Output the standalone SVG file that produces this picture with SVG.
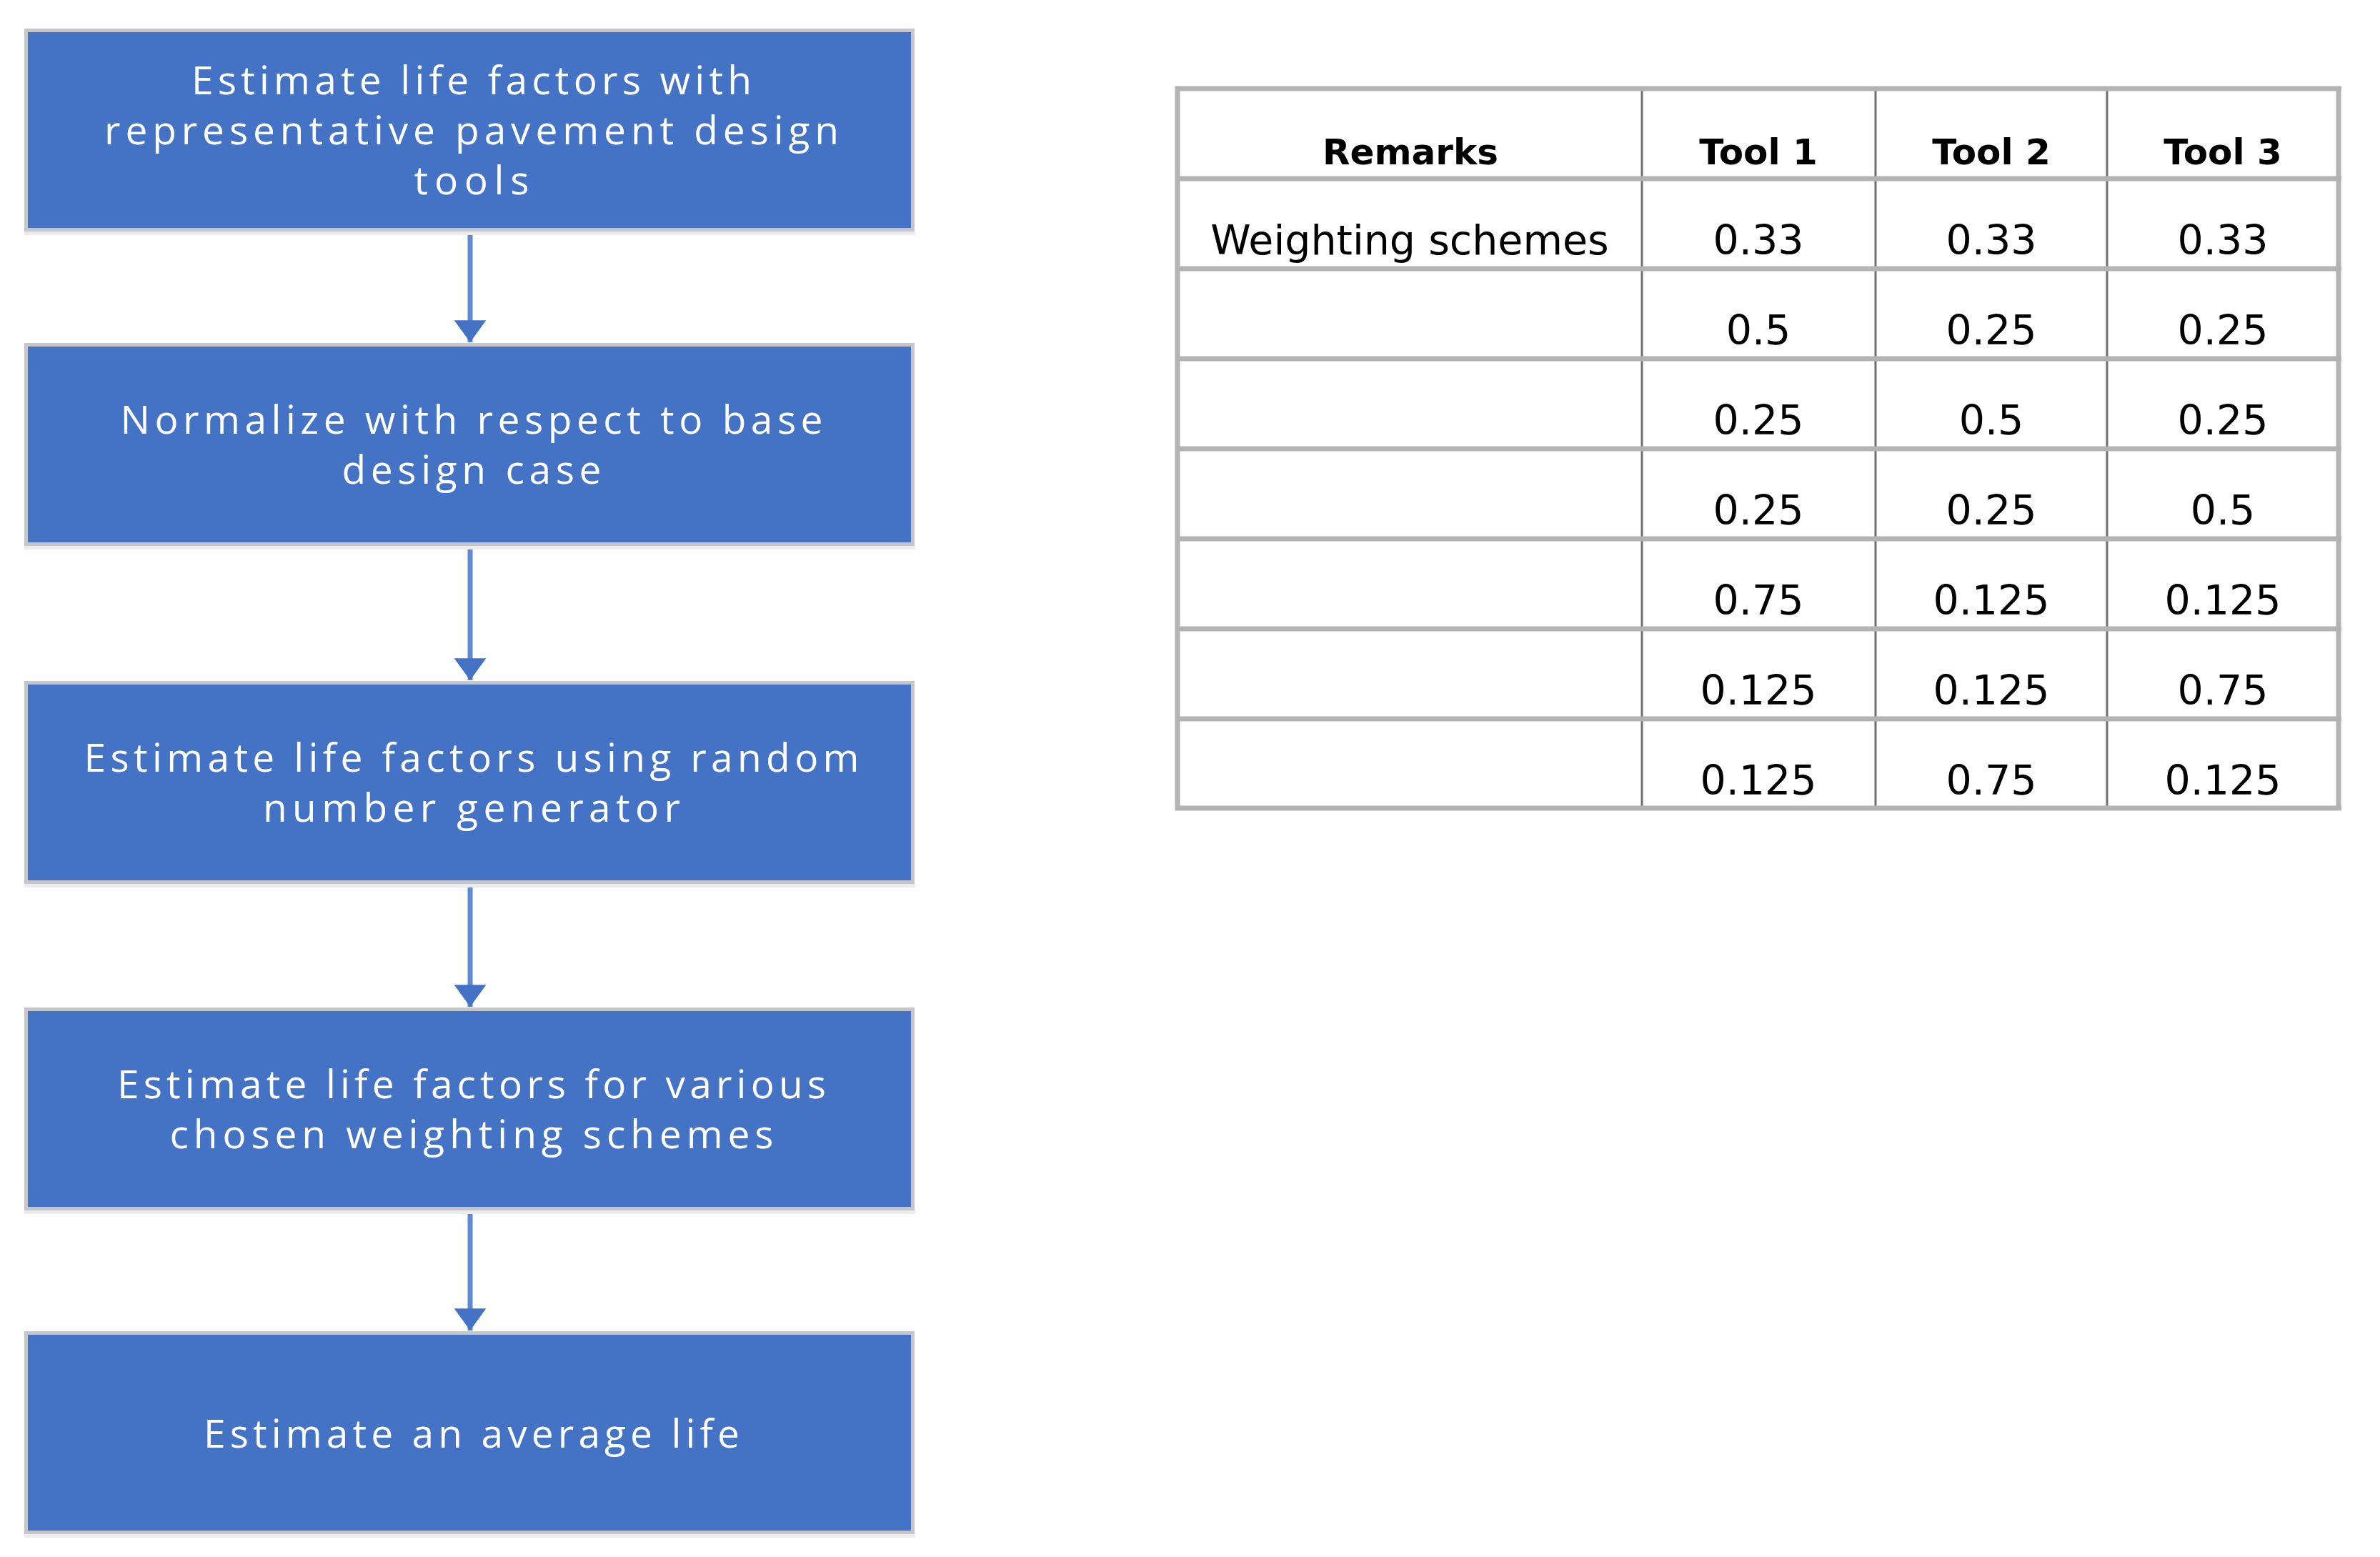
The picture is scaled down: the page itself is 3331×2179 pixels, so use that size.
<svg xmlns="http://www.w3.org/2000/svg" width="3331" height="2179" viewBox="0 0 3331 2179">
<style>
.box{fill:#4472C4;stroke:#c4c6cc;stroke-width:5}
.shadow{fill:#ececec}
.bt{font-family:"Open Sans","Noto Sans",sans-serif;font-size:55px;fill:#ffffff;text-anchor:middle}
.conn{stroke:#5f87d2;stroke-width:7;fill:none}
.head{fill:#4472C4}
.hl{stroke:#b3b3b3;stroke-width:7}
.ol{stroke:#b3b3b3;stroke-width:7}
.il{stroke:#6e6e6e;stroke-width:3}
.th{font-family:"DejaVu Sans",sans-serif;font-weight:bold;font-size:50px;fill:#000;text-anchor:middle}
.td{font-family:"DejaVu Sans",sans-serif;font-size:57px;fill:#000;text-anchor:middle}
</style>
<defs>
<marker id="arr" markerWidth="4.4" markerHeight="6.4" refX="4.4" refY="3.2" orient="auto" markerUnits="strokeWidth">
<path d="M0,0 L4.4,3.2 L0,6.4 Z" class="head"/>
</marker>
</defs>
<rect width="3331" height="2179" fill="#ffffff"/>
<g id="connectors">
<line class="conn" x1="658" y1="324" x2="658" y2="479" marker-end="url(#arr)"/>
<line class="conn" x1="658" y1="764" x2="658" y2="952" marker-end="url(#arr)"/>
<line class="conn" x1="658" y1="1237" x2="658" y2="1409" marker-end="url(#arr)"/>
<line class="conn" x1="658" y1="1694" x2="658" y2="1862" marker-end="url(#arr)"/>
</g>
<g id="node1">
<rect class="shadow" x="34" y="324" width="1247" height="5"/>
<rect class="box" x="36.5" y="42.5" width="1241" height="279"/>
<text class="bt" x="660" y="132" textLength="784" lengthAdjust="spacing">Estimate life factors with</text>
<text class="bt" x="660" y="202" textLength="1028" lengthAdjust="spacing">representative pavement design</text>
<text class="bt" x="660" y="272" textLength="161" lengthAdjust="spacing">tools</text>
</g>
<g id="node2">
<rect class="shadow" x="34" y="764" width="1247" height="5"/>
<rect class="box" x="36.5" y="482.5" width="1241" height="279"/>
<text class="bt" x="660" y="607" textLength="983" lengthAdjust="spacing">Normalize with respect to base</text>
<text class="bt" x="660" y="677" textLength="363" lengthAdjust="spacing">design case</text>
</g>
<g id="node3">
<rect class="shadow" x="34" y="1237" width="1247" height="5"/>
<rect class="box" x="36.5" y="955.5" width="1241" height="279"/>
<text class="bt" x="660" y="1080" textLength="1085" lengthAdjust="spacing">Estimate life factors using random</text>
<text class="bt" x="660" y="1150" textLength="584" lengthAdjust="spacing">number generator</text>
</g>
<g id="node4">
<rect class="shadow" x="34" y="1694" width="1247" height="5"/>
<rect class="box" x="36.5" y="1412.5" width="1241" height="279"/>
<text class="bt" x="660" y="1537" textLength="992" lengthAdjust="spacing">Estimate life factors for various</text>
<text class="bt" x="660" y="1607" textLength="845" lengthAdjust="spacing">chosen weighting schemes</text>
</g>
<g id="node5">
<rect class="shadow" x="34" y="2147" width="1247" height="5"/>
<rect class="box" x="36.5" y="1865.5" width="1241" height="279"/>
<text class="bt" x="660" y="2026" textLength="750" lengthAdjust="spacing">Estimate an average life</text>
</g>
<g id="table">
<g id="table-lines">
<line class="il" x1="2298" y1="124" x2="2298" y2="1131"/>
<line class="il" x1="2625" y1="124" x2="2625" y2="1131"/>
<line class="il" x1="2949" y1="124" x2="2949" y2="1131"/>
<line class="ol" x1="1648" y1="121" x2="1648" y2="1134"/>
<line class="ol" x1="3273" y1="121" x2="3273" y2="1134"/>
<line class="hl" x1="1645" y1="124" x2="3277" y2="124"/>
<line class="hl" x1="1645" y1="250" x2="3277" y2="250"/>
<line class="hl" x1="1645" y1="376" x2="3277" y2="376"/>
<line class="hl" x1="1645" y1="502" x2="3277" y2="502"/>
<line class="hl" x1="1645" y1="628" x2="3277" y2="628"/>
<line class="hl" x1="1645" y1="754" x2="3277" y2="754"/>
<line class="hl" x1="1645" y1="880" x2="3277" y2="880"/>
<line class="hl" x1="1645" y1="1006" x2="3277" y2="1006"/>
<line class="hl" x1="1645" y1="1131" x2="3277" y2="1131"/>
</g>
<text class="th" x="1974" y="230">Remarks</text>
<text class="th" x="2461" y="230">Tool 1</text>
<text class="th" x="2787" y="230">Tool 2</text>
<text class="th" x="3111" y="230">Tool 3</text>
<text class="td" x="1973" y="356">Weighting schemes</text>
<text class="td" x="2461" y="356">0.33</text>
<text class="td" x="2787" y="356">0.33</text>
<text class="td" x="3111" y="356">0.33</text>
<text class="td" x="2461" y="482">0.5</text>
<text class="td" x="2787" y="482">0.25</text>
<text class="td" x="3111" y="482">0.25</text>
<text class="td" x="2461" y="608">0.25</text>
<text class="td" x="2787" y="608">0.5</text>
<text class="td" x="3111" y="608">0.25</text>
<text class="td" x="2461" y="734">0.25</text>
<text class="td" x="2787" y="734">0.25</text>
<text class="td" x="3111" y="734">0.5</text>
<text class="td" x="2461" y="860">0.75</text>
<text class="td" x="2787" y="860">0.125</text>
<text class="td" x="3111" y="860">0.125</text>
<text class="td" x="2461" y="986">0.125</text>
<text class="td" x="2787" y="986">0.125</text>
<text class="td" x="3111" y="986">0.75</text>
<text class="td" x="2461" y="1112">0.125</text>
<text class="td" x="2787" y="1112">0.75</text>
<text class="td" x="3111" y="1112">0.125</text>
</g>
</svg>
